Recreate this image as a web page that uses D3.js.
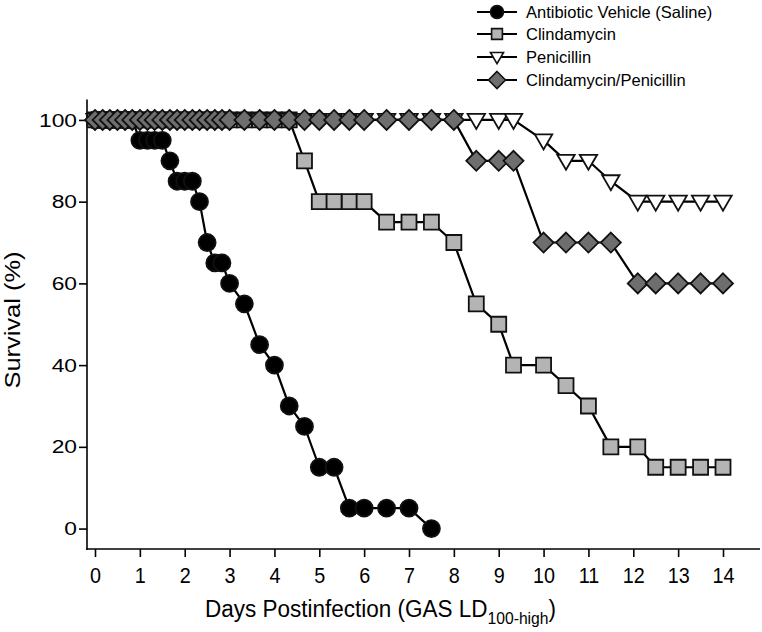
<!DOCTYPE html>
<html>
<head>
<meta charset="utf-8">
<script src="https://cdn.jsdelivr.net/npm/d3@7"></script>
<style>
  html, body { margin: 0; padding: 0; background: #fff; }
  svg { display: block; font-family: "Liberation Sans", Arial, Helvetica, sans-serif; }
</style>
</head>
<body>
<svg id="chart" width="762" height="632"></svg>
<script>
// ---- data ----
const days = [0, 0.17, 0.33, 0.5, 0.67, 0.83, 1, 1.17, 1.33, 1.5, 1.67, 1.83, 2, 2.17, 2.33, 2.5, 2.67, 2.83, 3,
  3.33, 3.67, 4, 4.33, 4.67, 5, 5.33, 5.67, 6, 6.5, 7, 7.5,
  8, 8.5, 9, 9.33, 10, 10.5, 11, 11.5, 12.1, 12.5, 13, 13.5, 14];

const saline = [100, 100, 100, 100, 100, 100, 95, 95, 95, 95, 90, 85, 85, 85, 80, 70, 65, 65, 60,
  55, 45, 40, 30, 25, 15, 15, 5, 5, 5, 5, 0];

const clindamycin = [100, 100, 100, 100, 100, 100, 100, 100, 100, 100, 100, 100, 100, 100, 100, 100, 100, 100, 100,
  100, 100, 100, 100, 90, 80, 80, 80, 80, 75, 75, 75,
  70, 55, 50, 40, 40, 35, 30, 20, 20, 15, 15, 15, 15];

const penicillin = [100, 100, 100, 100, 100, 100, 100, 100, 100, 100, 100, 100, 100, 100, 100, 100, 100, 100, 100,
  100, 100, 100, 100, 100, 100, 100, 100, 100, 100, 100, 100,
  100, 100, 100, 100, 95, 90, 90, 85, 80, 80, 80, 80, 80];

const combo = [100, 100, 100, 100, 100, 100, 100, 100, 100, 100, 100, 100, 100, 100, 100, 100, 100, 100, 100,
  100, 100, 100, 100, 100, 100, 100, 100, 100, 100, 100, 100,
  100, 90, 90, 90, 70, 70, 70, 70, 60, 60, 60, 60, 60];

const seriesNames = ["Antibiotic Vehicle (Saline)", "Clindamycin", "Penicillin", "Clindamycin/Penicillin"];
const xTicks = [0, 1, 2, 3, 4, 5, 6, 7, 8, 9, 10, 11, 12, 13, 14];
const yTicks = [0, 20, 40, 60, 80, 100];

// ---- styles ----
const styles = [
  { shape: "circle",   fill: "#000000" },
  { shape: "square",   fill: "#b4b4b4" },
  { shape: "triangle", fill: "#ffffff" },
  { shape: "diamond",  fill: "#6e6e6e" }
];
const seriesValues = [saline, clindamycin, penicillin, combo];

const svg = d3.select("#chart");

const x = d3.scaleLinear().domain([0, 14]).range([95, 723]);
const y = d3.scaleLinear().domain([-5, 105]).range([549, 99.5]);

function symbolPath(shape, s) {
  const p = d3.path();
  if (shape === "circle") {
    p.arc(0, 0, 8.5 * s, 0, 2 * Math.PI);
  } else if (shape === "square") {
    const h = 7.5 * s;
    p.rect(-h, -h, 2 * h, 2 * h);
  } else if (shape === "triangle") {
    const w = 8.7 * s, top = -6 * s, bot = 9 * s;
    p.moveTo(-w, top); p.lineTo(w, top); p.lineTo(0, bot); p.closePath();
  } else if (shape === "diamond") {
    const h = 10 * s;
    p.moveTo(0, -h); p.lineTo(h, 0); p.lineTo(0, h); p.lineTo(-h, 0); p.closePath();
  }
  return p.toString();
}

// ---- axes ----
svg.append("line").attr("x1", 86).attr("x2", 760).attr("y1", 549).attr("y2", 549)
  .attr("stroke", "#000").attr("stroke-width", 1.6);
const xAxis = d3.axisBottom(x).tickValues(xTicks).tickSize(8).tickSizeOuter(0);
const gxa = svg.append("g").attr("transform", "translate(0,549)").call(xAxis);
gxa.select(".domain").remove();
gxa.selectAll(".tick line").attr("stroke", "#000").attr("stroke-width", 1.6);
gxa.selectAll(".tick text")
  .attr("font-size", 22).attr("fill", "#000")
  .attr("font-family", "'Liberation Sans', Arial, sans-serif")
  .attr("y", 34).attr("dy", null).attr("x", 0)
  .attr("transform", "scale(0.9,1)");

svg.append("line").attr("x1", 87).attr("x2", 87).attr("y1", 99.5).attr("y2", 549.8)
  .attr("stroke", "#000").attr("stroke-width", 1.6);
const yAxis = d3.axisLeft(y).tickValues(yTicks).tickSize(8).tickSizeOuter(0);
const gya = svg.append("g").attr("transform", "translate(87,0)").call(yAxis);
gya.select(".domain").remove();
gya.selectAll(".tick line").attr("stroke", "#000").attr("stroke-width", 1.6);
gya.selectAll(".tick text")
  .attr("font-size", 19).attr("fill", "#000")
  .attr("font-family", "'Liberation Sans', Arial, sans-serif")
  .attr("x", -10 / 1.2)
  .attr("transform", "scale(1.2,1)");

// axis titles
svg.append("text")
  .attr("transform", "translate(20,320) rotate(-90)")
  .attr("text-anchor", "middle")
  .attr("font-size", 22).attr("fill", "#000")
  .attr("textLength", 137).attr("lengthAdjust", "spacingAndGlyphs")
  .text("Survival (%)");

const xt = svg.append("text")
  .attr("x", 205).attr("y", 617)
  .attr("font-size", 23).attr("fill", "#000")
  .attr("textLength", 351).attr("lengthAdjust", "spacingAndGlyphs");
xt.append("tspan").text("Days Postinfection (GAS LD");
xt.append("tspan").attr("font-size", 16).attr("dy", 7).text("100-high");
xt.append("tspan").attr("dy", -7).text(")");

// ---- series ----
const line = d3.line().x(d => x(d[0])).y(d => y(d[1]));
seriesValues.forEach((vals, i) => {
  const pts = vals.map((v, j) => [days[j], v]);
  const g = svg.append("g").attr("class", "series-" + i);
  g.append("path").datum(pts).attr("d", line)
    .attr("fill", "none").attr("stroke", "#000").attr("stroke-width", 2.2);
  g.selectAll("path.mark").data(pts).join("path")
    .attr("class", "mark")
    .attr("transform", d => `translate(${x(d[0])},${y(d[1])})`)
    .attr("d", symbolPath(styles[i].shape, 1))
    .attr("fill", styles[i].fill)
    .attr("stroke", "#111").attr("stroke-width", 1.8)
    .attr("stroke-linejoin", "miter");
});

// ---- legend ----
const legendY = [12, 34, 57, 80];
const legendScale = [0.76, 0.72, 0.75, 0.85];
const lg = svg.append("g");
seriesNames.forEach((name, i) => {
  const r = lg.append("g").attr("transform", `translate(0,${legendY[i]})`);
  r.append("line").attr("x1", 477).attr("x2", 517).attr("y1", 0).attr("y2", 0)
    .attr("stroke", "#000").attr("stroke-width", 2.2);
  r.append("path").attr("transform", "translate(497,0)")
    .attr("d", symbolPath(styles[i].shape, legendScale[i]))
    .attr("fill", styles[i].fill).attr("stroke", "#111").attr("stroke-width", 1.6);
  r.append("text").attr("x", 526).attr("y", 0).attr("dy", "0.36em")
    .attr("font-size", 16.5).attr("fill", "#000").text(name);
});
</script>
</body>
</html>
